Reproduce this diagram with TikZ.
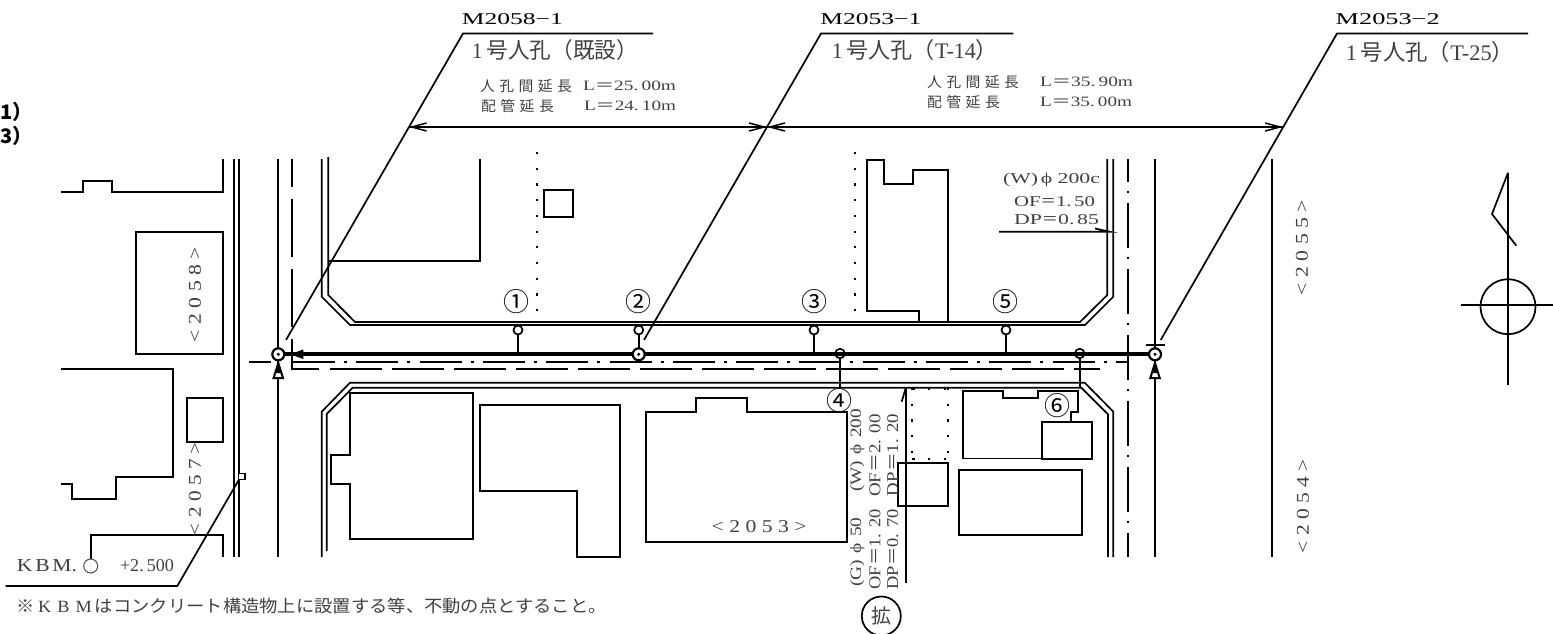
\documentclass[tikz,border=0pt]{standalone}
\usepackage{fontspec}
\usepackage{graphicx}
\usetikzlibrary{arrows.meta}
\setmainfont{Liberation Serif}
\newfontfamily\cjk{Noto Sans CJK JP}
\newfontfamily\wide[FakeStretch=1.35]{Liberation Serif}
\newcommand\fit[3]{\resizebox{#1pt}{#2pt}{#3}}
\newcommand\eq{{\cjk ＝}}
\newcommand\cjksp[1]{{\cjk\addfontfeature{LetterSpace=30}#1}}
\tikzset{
  ln/.style={line width=1.7pt,line cap=butt,line join=miter,draw=black},
  thin ln/.style={line width=1.2pt,draw=black},
  txt/.style={inner sep=0pt,outer sep=0pt,text=black!75},
  vtxt/.style={txt,rotate=90},
  dots/.style={line width=2.2pt,draw=black,dash pattern=on 2.2pt off 13.5pt},
  barb/.style={-{Straight Barb[length=15pt,width=8pt,line width=1.5pt]}},
  mh/.style={circle,draw=black,fill=white,line width=2.2pt,minimum size=12pt,inner sep=0pt},
  st/.style={circle,draw=black,fill=white,line width=1.7pt,minimum size=9pt,inner sep=0pt},
  st2/.style={circle,draw=black,line width=1.7pt,minimum size=9.5pt,inner sep=0pt},
  numc/.style={txt,text=black,font=\cjk\fontsize{26}{26}\selectfont},
}
\begin{document}
\begin{tikzpicture}[x=1pt,y=-1pt]
\useasboundingbox (0,0) rectangle (1553,634);
\clip (0,0) rectangle (1553,634);
% side labels
\node[txt,anchor=west,text=black] (sa) at (0,112) {\cjk\bfseries\fontsize{20}{20}\selectfont 1）};
\node[txt,anchor=west,text=black] (sb) at (0,136) {\cjk\bfseries\fontsize{20}{20}\selectfont 3）};
% left blocks
\draw[ln] (61,192.3)--(83.3,192.3)--(83.3,181)--(112.3,181)--(112.3,192.3)--(222.7,192.3)--(222.7,159);
\draw[ln] (136,231.7) rectangle (222.7,354.3);
\draw[ln] (61,369)--(173.3,369)--(173.3,477)--(115.7,477)--(115.7,498.7)--(72,498.7)--(72,484)--(61,484);
\draw[ln] (186.7,397.7) rectangle (222.7,441.7);
\draw[ln] (90.7,559)--(90.7,535)--(222.7,535)--(222.7,557);
% road double lines left
\draw[ln] (234.3,159)--(234.3,557);
\draw[ln] (238.7,159)--(238.7,557);
% street verticals
\coordinate (mA) at (278.3,354.3);
\coordinate (mC) at (1155,354.3);
\draw[ln] (278.3,159)--(mA);
\draw[ln] (278.3,557)--(mA);
\draw[ln] (1155,159)--(mC);
\draw[ln] (1155,557)--(mC);
\draw[ln] (1272,159)--(1272,557);
% dashed lines
\draw[ln,dash pattern=on 58pt off 12pt,dash phase=30pt] (292,159)--(292,369);
\draw[ln] (292,339)--(292,369)--(319,369);
\draw[ln,dash pattern=on 52pt off 10pt] (330,369)--(1100,369);
\draw[ln,dash pattern=on 45pt off 9pt on 2pt off 10pt,dash phase=22pt] (1128,159)--(1128,557);
\draw[ln] (1128,335)--(1128,380);
\draw[ln] (249,362)--(271,362);
\draw[ln,dash pattern=on 42pt off 9pt on 3pt off 9.3pt,dash phase=0pt] (293,362)--(1128,362);
% upper road
\draw[ln] (321.7,159)--(321.7,296.7)--(350,325)--(1085,325)--(1113.3,296.7)--(1113.3,159);
\draw[ln] (328.3,157)--(328.3,295)--(355,322)--(1080,322)--(1107.3,295)--(1107.3,159);
% lower road
\draw[ln] (321.7,557)--(321.7,411.7)--(350,382.7)--(1084.7,382.7)--(1113.3,411.7)--(1113.3,557);
\draw[ln] (326.7,551)--(326.7,414)--(352.7,387.7)--(1081.3,387.7)--(1108,414.3)--(1108,557);
% upper blocks
\draw[ln] (328.3,260.7)--(480,260.7)--(480,159);
\draw[ln] (544,190) rectangle (573.3,217.3);
\draw[ln] (919.3,322)--(919.3,310.7)--(866.7,310.7)--(866.7,160)--(884,160)--(884,184.3)--(912.7,184.3)--(912.7,170)--(948.3,170)--(948.3,322);
\draw[dots] (537.3,152)--(537.3,320);
\draw[dots] (854.7,152)--(854.7,320);
% lower blocks
\draw[ln] (350,393.3)--(472.7,393.3)--(472.7,539.3)--(350,539.3)--(350,484)--(331,484)--(331,455.3)--(350,455.3)--cycle;
\draw[ln] (480,405)--(620,405)--(620,556.7)--(577.3,556.7)--(577.3,491.3)--(480,491.3)--cycle;
\draw[ln] (645.7,411.7)--(696,411.7)--(696,398)--(747,398)--(747,411.7)--(847.3,411.7)--(847.3,541.7)--(645.7,541.7)--cycle;
\draw[ln] (897.7,462.7) rectangle (948.3,506);
\draw[dots] (912.3,388)--(912.3,459);
\draw[dots] (948.3,388)--(948.3,459);
\draw[dots] (912.3,388.5)--(948.3,388.5);
\draw[dots] (912.3,459.3)--(948.3,459.3);
\draw[ln] (905.7,388)--(905.7,583.3);
\draw[ln] (901.7,401.7)--(905.7,388);
\draw[ln] (963.3,458.6)--(963.3,391)--(1003.3,391)--(1003.3,397.7)--(1038,397.7)--(1038,390.7)--(1078.3,390.7)--(1078.3,411.7)--(1071.3,411.7)--(1071.3,422);
\draw[ln] (963.3,458.6)--(1042,458.6);
\draw[ln] (1042,422) rectangle (1092.3,458.7);
\draw[ln] (959,469.7) rectangle (1082,535);
% north symbol
\draw[ln] (1508,172.7)--(1508,385);
\draw[ln] (1508,172.7)--(1492,214)--(1516.3,245.7);
\draw[ln] (1508,306.7) circle (27.5);
\draw[ln] (1460.7,305)--(1553,305);
% leaders
\draw[ln] (653,33.5)--(463,33.5)--(286,340);
\draw[ln] (1013.3,33.5)--(821,33.5)--(644,340);
\draw[ln] (1528,33.5)--(1337,33.5)--(1160.7,340);
\draw[ln] (5.7,586)--(177.3,586)--(238.7,480);
\draw[thin ln,fill=white] (238.7,473.7) rectangle (245,479.7);
% dimension line
\coordinate (dA) at (408.7,127);
\coordinate (dB) at (767,127);
\coordinate (dC) at (1283,127);
\draw[ln,barb] (dB)--(dA);
\draw[ln,barb] (dA)--(dB);
\draw[ln,barb] (dB)--(dC);
\draw[ln,barb] (dC)--(dB);
% water leader
\draw[ln] (999,231.7)--(1109.7,231.7)--(1095,228.5);
% main pipe
\coordinate (mB) at (638.7,354.3);
\draw[line width=4pt,draw=black] (mA)--(mC);
\fill (290,354.3)--(303.3,349.5)--(303.3,359)--cycle;
\draw[ln] (1145.7,345)--(1164.7,345);
% arrows below manholes
\draw[ln,line width=2pt,fill=white] (278.3,363)--(283,378)--(273.6,378)--cycle;
\fill (278.3,363)--(282,373)--(274.6,373)--cycle;
\draw[ln,line width=2pt,fill=white] (1155,363)--(1159.7,378)--(1150.3,378)--cycle;
\fill (1155,363)--(1158.7,373)--(1151.3,373)--cycle;
% laterals
\coordinate (la) at (518,354.3);
\coordinate (lb) at (814,354.3);
\coordinate (lc) at (1006,354.3);
\coordinate (ld) at (840,388);
\coordinate (le) at (1079.7,388);
\node[st] (sa1) at (518,330) {};
\node[st] (sb1) at (638.7,330) {};
\node[st] (sc1) at (814,330) {};
\node[st] (sd1) at (1006,330) {};
\draw[ln] (sa1)--(la);
\draw[ln] (sb1)--(mB);
\draw[ln] (sc1)--(lb);
\draw[ln] (sd1)--(lc);
\node[st2] (se1) at (840,353.5) {};
\node[st2] (sf1) at (1079.7,353.5) {};
\draw[ln] (se1)--(ld);
\draw[ln] (sf1)--(le);
% manholes
\node[mh] (nA) at (mA) {};
\node[mh] (nB) at (mB) {};
\node[mh] (nC) at (mC) {};
\fill (mA) circle (1.7);
\fill (mB) circle (1.7);
\fill (mC) circle (1.7);
% KBM circle
\node[circle,draw=black!70,line width=1pt,minimum size=14pt,inner sep=0pt,fill=white] (kbm) at (90.7,566) {};
\node[txt] (kt) at (47,566) {\fit{60}{12}{\wide K\,B\,M.}};
\node[txt] (kv) at (147,566) {\fit{54}{12}{+2.\,500}};
\node[txt] (note) at (311.7,606) {\fit{590}{14.5}{\cjk ※{\rmfamily\,K\,\,B\,\,M\,}はコンクリート構造物上に設置する等、不動の点とすること。}};
% circled numbers
\node[numc] (n1) at (516.7,302) {①};
\node[numc] (n2) at (638.3,302) {②};
\node[numc] (n3) at (814,302) {③};
\node[numc] (n5) at (1005.7,302) {⑤};
\node[numc] (n4) at (839.3,401) {④};
\node[numc] (n6) at (1057.3,406) {⑥};
% titles
\node[txt,text=black] (t1) at (512.3,19) {\fit{101}{11}{M2058−1}};
\node[txt,text=black] (t2) at (870.8,19) {\fit{101}{11}{M2053−1}};
\node[txt,text=black] (t3) at (1387.7,19) {\fit{104}{11}{M2053−2}};
\node[txt] (u1) at (555,50) {\fit{166}{19}{{\rmfamily 1}\,\cjk 号人孔（既設）}};
\node[txt] (u2) at (915,50) {\fit{166}{19}{{\rmfamily 1}\,\cjk 号人孔（{\rmfamily T-14}）}};
\node[txt] (u3) at (1430,52) {\fit{168}{19}{{\rmfamily 1}\,\cjk 号人孔（{\rmfamily T-25}）}};
% lengths
\node[txt,anchor=west] (l1a) at (480,86) {\fit{92}{12}{\cjksp{人孔間延長}}};
\node[txt,anchor=west] (l1b) at (583,86) {\fit{93}{9.5}{L\eq 25.\,00m}};
\node[txt,anchor=west] (l2a) at (481,106) {\fit{73}{12}{\cjksp{配管延長}}};
\node[txt,anchor=west] (l2b) at (584,106) {\fit{92}{9.5}{L\eq 24.\,10m}};
\node[txt,anchor=west] (l3a) at (927,81.7) {\fit{92}{12}{\cjksp{人孔間延長}}};
\node[txt,anchor=west] (l3b) at (1040,81.7) {\fit{93}{9.5}{L\eq 35.\,90m}};
\node[txt,anchor=west] (l4a) at (927,102) {\fit{73}{12}{\cjksp{配管延長}}};
\node[txt,anchor=west] (l4b) at (1040,102) {\fit{92}{9.5}{L\eq 35.\,00m}};
\node[txt,anchor=west] (w1) at (1003,180) {\fit{97}{10.5}{\wide (W)\,ϕ 200c}};
\node[txt,anchor=west] (w2) at (1014,202) {\fit{81}{10}{\wide OF\eq 1.\,50}};
\node[txt,anchor=west] (w3) at (1014,220) {\fit{85}{10}{\wide DP\eq 0.\,85}};
% district numbers
\node[vtxt] (d1) at (195,294.5) {\fit{95}{12}{\wide < 2 0 5 8 >}};
\node[vtxt] (d2) at (195,488.5) {\fit{93}{12}{\wide < 2 0 5 7 >}};
\node[vtxt] (d3) at (1302,247.5) {\fit{95}{12}{\wide < 2 0 5 5 >}};
\node[vtxt] (d4) at (1303,506) {\fit{94}{12}{\wide < 2 0 5 4 >}};
\node[txt] (d5) at (759.2,526.7) {\fit{95}{12}{\wide < 2 0 5 3 >}};
% rotated pipe data
\node[vtxt] (g1) at (857.3,552) {\fit{69.4}{11}{(G)\,\,ϕ\,\,50}};
\node[vtxt] (g2) at (857.3,450.4) {\fit{82.7}{11}{(W)\,\,ϕ\,\,200}};
\node[vtxt] (g3) at (875,549.2) {\fit{80.3}{11}{OF\eq 1.\,\,20}};
\node[vtxt] (g4) at (875,455.4) {\fit{82.7}{11}{OF\eq 2.\,\,00}};
\node[vtxt] (g5) at (892.7,549.2) {\fit{80.3}{11}{DP\eq 0.\,\,70}};
\node[vtxt] (g6) at (892.7,455) {\fit{82}{11}{DP\eq 1.\,\,20}};
% circled mark
\draw[ln] (881.3,616) circle (19.5);
\node[txt] (k) at (881.3,616) {\cjk\fontsize{20}{20}\selectfont 拡};
\end{tikzpicture}
\end{document}
